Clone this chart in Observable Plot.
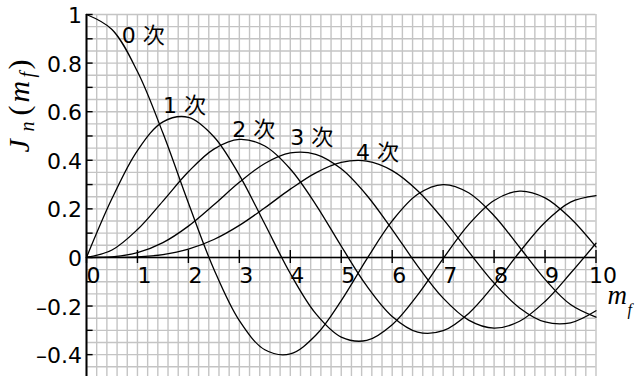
<!DOCTYPE html>
<html>
<head>
<meta charset="utf-8">
<script src="https://cdn.jsdelivr.net/npm/d3@7"></script>
<script src="https://cdn.jsdelivr.net/npm/@observablehq/plot@0.6"></script>
<style>
  html, body { margin: 0; padding: 0; background: #fff; }
</style>
</head>
<body>
<div id="chart"></div>
<script>
// Modulation index m_f sampled every 0.5
const mf = [0, 0.5, 1, 1.5, 2, 2.5, 3, 3.5, 4, 4.5, 5, 5.5, 6, 6.5, 7, 7.5, 8, 8.5, 9, 9.5, 10];

// Bessel function values J_n(m_f) for orders 0..4
const j0 = [1, 0.9385, 0.7652, 0.5118, 0.2239, -0.0484, -0.2601, -0.3801, -0.3971, -0.3205, -0.1776, -0.0068, 0.1506, 0.2601, 0.3001, 0.2663, 0.1717, 0.0419, -0.0903, -0.1939, -0.2459];
const j1 = [0, 0.2423, 0.4401, 0.5579, 0.5767, 0.4971, 0.3391, 0.1374, -0.0660, -0.2311, -0.3276, -0.3414, -0.2767, -0.1538, -0.0047, 0.1352, 0.2346, 0.2731, 0.2453, 0.1613, 0.0435];
const j2 = [0, 0.0306, 0.1149, 0.2321, 0.3528, 0.4461, 0.4861, 0.4586, 0.3641, 0.2178, 0.0466, -0.1173, -0.2429, -0.3074, -0.3014, -0.2303, -0.1130, 0.0223, 0.1448, 0.2279, 0.2546];
const j3 = [0, 0.0026, 0.0196, 0.0610, 0.1289, 0.2166, 0.3091, 0.3868, 0.4302, 0.4247, 0.3648, 0.2561, 0.1148, -0.0353, -0.1676, -0.2581, -0.2911, -0.2626, -0.1809, -0.0652, 0.0584];
const j4 = [0, 0.0002, 0.0025, 0.0118, 0.0340, 0.0738, 0.1320, 0.2044, 0.2811, 0.3484, 0.3912, 0.3967, 0.3576, 0.2748, 0.1578, 0.0238, -0.1054, -0.2077, -0.2655, -0.2691, -0.2196];
const series = [j0, j1, j2, j3, j4];

// Order labels placed near each curve's first peak
const orderLabels = ["0 次", "1 次", "2 次", "3 次", "4 次"];
const orderLabelX = [0.69, 1.50, 2.86, 4.00, 5.29];
const orderLabelY = [0.881, 0.593, 0.494, 0.461, 0.40];

// Axis ticks and labels
const xTickValues = [0, 1, 2, 3, 4, 5, 6, 7, 8, 9, 10];
const xTickLabels = ["0", "1", "2", "3", "4", "5", "6", "7", "8", "9", "10"];
const yTickValues = [-0.4, -0.2, 0, 0.2, 0.4, 0.6, 0.8, 1];
const yTickLabels = ["–0.4", "–0.2", "0", "0.2", "0.4", "0.6", "0.8", "1"];
const yMinorTicks = [-0.4, -0.3, -0.2, -0.1, 0, 0.1, 0.2, 0.3, 0.4, 0.5, 0.6, 0.7, 0.8, 0.9, 1];

// Graph-paper grid: 0.2 along m_f, 0.05 along J
const xGrid = d3.range(0, 51).map(i => +(i * 0.2).toFixed(2));
const yGrid = d3.range(-9, 21).map(i => +(i * 0.05).toFixed(2));

const rows = series.flatMap((vals, n) => vals.map((v, i) => ({n, x: mf[i], y: v})));

const sansFont = "'DejaVu Sans', 'Noto Sans CJK JP', sans-serif";
const serifFont = "'Liberation Serif', 'DejaVu Serif', serif";
const frame = {frameAnchor: "top-left", textAnchor: "start", lineAnchor: "bottom", fill: "black"};
const vertical = {...frame, rotate: -90};

const chart = Plot.plot({
  width: 640,
  height: 376,
  marginLeft: 86,
  marginRight: 44.5,
  marginTop: 14,
  marginBottom: 0,
  x: {domain: [0, 10], axis: null},
  y: {domain: [-0.49, 1], axis: null},
  style: {background: "white", overflow: "visible"},
  marks: [
    // graph-paper grid
    Plot.ruleX(xGrid, {stroke: "#c4c4c4", strokeWidth: 1.4}),
    Plot.ruleY(yGrid, {stroke: "#c4c4c4", strokeWidth: 1.4}),
    // axis lines
    Plot.ruleX([0], {stroke: "black", strokeWidth: 2}),
    Plot.ruleY([0], {stroke: "black", strokeWidth: 1.6}),
    // ticks
    Plot.ruleX(xTickValues, {y1: -0.025, y2: 0.029, stroke: "black", strokeWidth: 1.4}),
    Plot.ruleY(yMinorTicks, {x1: 0, x2: 0.13, stroke: "black", strokeWidth: 1.4}),
    // tick labels
    Plot.text(xTickValues, {x: d => d, y: 0, text: (d, i) => xTickLabels[i], textAnchor: "middle", lineAnchor: "bottom", dx: 7, dy: 26, fontSize: 22, fontFamily: sansFont, fill: "black"}),
    Plot.text(yTickValues, {x: 0, y: d => d, text: (d, i) => yTickLabels[i], textAnchor: "end", lineAnchor: "middle", dx: -4.5, dy: 1.5, fontSize: 22, fontFamily: sansFont, fill: "black"}),
    // Bessel curves
    Plot.line(rows, {x: "x", y: "y", z: "n", curve: "catmull-rom", stroke: "black", strokeWidth: 1.3}),
    // order labels
    Plot.text(orderLabels, {x: (d, i) => orderLabelX[i], y: (d, i) => orderLabelY[i], text: d => d, textAnchor: "start", lineAnchor: "bottom", fontSize: 22, fontFamily: sansFont, fill: "black"}),
    // x axis title m_f
    Plot.text(["m"], {...frame, dx: 521, dy: 289, fontSize: 27, fontStyle: "italic", fontFamily: serifFont}),
    Plot.text(["f"], {...frame, dx: 541, dy: 300, fontSize: 16, fontStyle: "italic", fontFamily: serifFont}),
    // y axis title J_n(m_f), reading upward
    Plot.text(["J"], {...vertical, dx: -58, dy: 138, fontSize: 30, fontStyle: "italic", fontFamily: serifFont}),
    Plot.text(["n"], {...vertical, dx: -53, dy: 117, fontSize: 20, fontStyle: "italic", fontFamily: serifFont}),
    Plot.text(["("], {...vertical, dx: -58, dy: 101, fontSize: 30, fontFamily: serifFont}),
    Plot.text(["m"], {...vertical, dx: -58, dy: 88, fontSize: 30, fontStyle: "italic", fontFamily: serifFont}),
    Plot.text(["f"], {...vertical, dx: -53, dy: 63, fontSize: 20, fontStyle: "italic", fontFamily: serifFont}),
    Plot.text([")"], {...vertical, dx: -58, dy: 55, fontSize: 30, fontFamily: serifFont})
  ]
});

document.getElementById("chart").appendChild(chart);
</script>
</body>
</html>
